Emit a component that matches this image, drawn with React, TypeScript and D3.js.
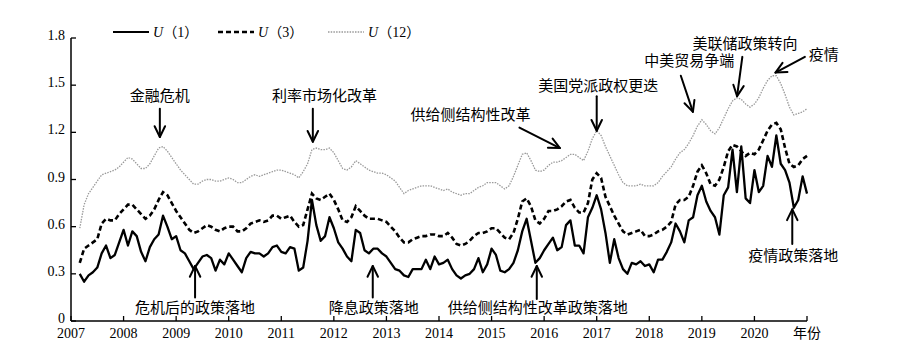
import * as d3 from "d3";

// monthly values, first point = 2007-02
const u1 = [
  0.30, 0.25, 0.29, 0.31, 0.34, 0.43, 0.48, 0.40, 0.42, 0.50, 0.58, 0.48, 0.57, 0.54, 0.44, 0.38, 0.47, 0.52, 0.55, 0.67,
  0.60, 0.52, 0.54, 0.45, 0.43, 0.38, 0.33, 0.37, 0.41, 0.42, 0.40, 0.32, 0.39, 0.36, 0.43, 0.39, 0.35, 0.31, 0.40, 0.44,
  0.43, 0.43, 0.41, 0.43, 0.47, 0.48, 0.44, 0.43, 0.47, 0.46, 0.32, 0.34, 0.51, 0.77, 0.61, 0.51, 0.54, 0.66, 0.59, 0.50,
  0.46, 0.41, 0.38, 0.58, 0.56, 0.45, 0.43, 0.46, 0.46, 0.43, 0.41, 0.37, 0.33, 0.32, 0.29, 0.28, 0.33, 0.33, 0.33, 0.39,
  0.33, 0.41, 0.36, 0.37, 0.39, 0.33, 0.29, 0.27, 0.29, 0.30, 0.33, 0.40, 0.31, 0.36, 0.46, 0.42, 0.32, 0.31, 0.33, 0.37,
  0.45, 0.57, 0.65, 0.51, 0.37, 0.40, 0.45, 0.49, 0.53, 0.45, 0.47, 0.61, 0.64, 0.48, 0.48, 0.43, 0.66, 0.72, 0.80, 0.71,
  0.56, 0.37, 0.52, 0.40, 0.33, 0.30, 0.37, 0.36, 0.38, 0.35, 0.36, 0.31, 0.39, 0.39, 0.44, 0.50, 0.62, 0.57, 0.50, 0.64,
  0.66, 0.80, 0.86, 0.76, 0.70, 0.66, 0.55, 0.80, 0.85, 1.09, 0.82, 1.11, 0.78, 0.75, 0.96, 0.82, 0.86, 1.05, 0.98, 1.18,
  1.00, 0.96, 0.88, 0.72, 0.77, 0.92, 0.81,
];

const u3 = [
  0.37, 0.46, 0.48, 0.50, 0.52, 0.62, 0.65, 0.64, 0.64, 0.68, 0.71, 0.74, 0.74, 0.71, 0.68, 0.65, 0.67, 0.71, 0.77, 0.82,
  0.80, 0.75, 0.70, 0.66, 0.62, 0.58, 0.56, 0.57, 0.59, 0.61, 0.60, 0.58, 0.57, 0.59, 0.60, 0.60, 0.57, 0.57, 0.59, 0.62,
  0.63, 0.64, 0.63, 0.64, 0.67, 0.67, 0.65, 0.66, 0.67, 0.63, 0.60, 0.61, 0.71, 0.81, 0.78, 0.77, 0.79, 0.81, 0.77, 0.71,
  0.64, 0.63, 0.66, 0.73, 0.70, 0.67, 0.65, 0.65, 0.65, 0.64, 0.63, 0.60, 0.57, 0.53, 0.50, 0.50, 0.52, 0.53, 0.54, 0.54,
  0.55, 0.55, 0.54, 0.54, 0.56, 0.53, 0.49, 0.48, 0.49, 0.51, 0.54, 0.56, 0.56, 0.57, 0.59, 0.59, 0.56, 0.53, 0.52, 0.56,
  0.65, 0.76, 0.78, 0.73, 0.64, 0.62, 0.65, 0.70, 0.70, 0.71, 0.73, 0.76, 0.77, 0.72, 0.69, 0.69, 0.75, 0.90, 0.94, 0.91,
  0.79, 0.73, 0.67, 0.62, 0.57, 0.55, 0.56, 0.57, 0.58, 0.54, 0.54, 0.55, 0.57, 0.58, 0.60, 0.63, 0.74, 0.77, 0.77, 0.79,
  0.86, 0.95, 0.99, 0.94, 0.87, 0.86, 0.90, 0.98, 1.08, 1.12, 1.11, 1.08, 1.05, 1.07, 1.06, 1.09, 1.15, 1.21, 1.25, 1.26,
  1.22, 1.10, 1.00, 0.98, 0.99, 1.03, 1.05,
];

const u12 = [
  0.59, 0.74, 0.81, 0.85, 0.89, 0.93, 0.94, 0.95, 0.96, 0.98, 1.01, 1.04, 1.03, 1.00, 0.97, 0.97, 1.00, 1.05, 1.10, 1.11,
  1.08, 1.04, 1.00, 0.96, 0.93, 0.90, 0.87, 0.87, 0.89, 0.90, 0.90, 0.89, 0.89, 0.90, 0.91, 0.90, 0.88, 0.88, 0.90, 0.92,
  0.93, 0.92, 0.93, 0.94, 0.95, 0.96, 0.96, 0.95, 0.94, 0.93, 0.91, 0.95, 1.00, 1.09, 1.10, 1.09, 1.09, 1.10, 1.07, 1.02,
  0.97, 0.96, 0.98, 1.02, 1.00, 0.98, 0.96, 0.95, 0.94, 0.94, 0.93, 0.91, 0.89, 0.85, 0.81, 0.83, 0.84, 0.85, 0.86, 0.86,
  0.86, 0.85, 0.84, 0.83, 0.84, 0.82, 0.81, 0.80, 0.81, 0.81, 0.83, 0.85, 0.86, 0.88, 0.88, 0.88, 0.86, 0.84, 0.86, 0.92,
  0.99, 1.06, 1.07, 1.02, 0.96, 0.95, 0.96, 0.99, 1.01, 1.01, 1.02, 1.04, 1.06, 1.06, 1.04, 1.02, 1.08, 1.16, 1.21, 1.18,
  1.11, 1.05, 0.99, 0.93, 0.88, 0.86, 0.86, 0.86, 0.87, 0.86, 0.86, 0.86, 0.88, 0.92, 0.95, 0.98, 1.03, 1.07, 1.09, 1.13,
  1.18, 1.24, 1.28, 1.25, 1.21, 1.19, 1.23, 1.29, 1.35, 1.40, 1.42, 1.41, 1.38, 1.36, 1.38, 1.42, 1.48, 1.53, 1.56, 1.56,
  1.51, 1.44, 1.36, 1.31, 1.32, 1.33, 1.35,
];

const years = [2007, 2008, 2009, 2010, 2011, 2012, 2013, 2014, 2015, 2016, 2017, 2018, 2019, 2020, 2021];
const yearLabels = ["2007", "2008", "2009", "2010", "2011", "2012", "2013", "2014", "2015", "2016", "2017", "2018", "2019", "2020", "年份"];
const yTicks = [0, 0.3, 0.6, 0.9, 1.2, 1.5, 1.8];
const yTickLabels = ["0", "0.3", "0.6", "0.9", "1.2", "1.5", "1.8"];

// events: text, text anchor (year, value), arrow tail -> tip (year, value)
const events = [
  { text: "金融危机", tx: 2008.69, ty: 1.40, from: [2008.69, 1.35], to: [2008.69, 1.17] },
  { text: "利率市场化改革", tx: 2011.82, ty: 1.40, from: [2011.6, 1.35], to: [2011.6, 1.14] },
  { text: "供给侧结构性改革", tx: 2014.6, ty: 1.28, from: [2015.53, 1.23], to: [2016.3, 1.10] },
  { text: "美国党派政权更迭", tx: 2017.03, ty: 1.46, from: [2017.0, 1.43], to: [2017.0, 1.21] },
  { text: "中美贸易争端", tx: 2018.76, ty: 1.62, from: [2018.6, 1.56], to: [2018.83, 1.33] },
  { text: "美联储政策转向", tx: 2019.82, ty: 1.73, from: [2019.77, 1.68], to: [2019.67, 1.43] },
  { text: "疫情", tx: 2021.32, ty: 1.66, from: [2020.96, 1.68], to: [2020.4, 1.58] },
  { text: "危机后的政策落地", tx: 2009.36, ty: 0.05, from: [2009.36, 0.15], to: [2009.36, 0.35] },
  { text: "降息政策落地", tx: 2012.76, ty: 0.05, from: [2012.74, 0.15], to: [2012.74, 0.35] },
  { text: "供给侧结构性改革政策落地", tx: 2015.88, ty: 0.05, from: [2015.86, 0.14], to: [2015.86, 0.35] },
  { text: "疫情政策落地", tx: 2020.74, ty: 0.38, from: [2020.72, 0.49], to: [2020.72, 0.71] },
];

const W = 899;
const H = 364;
const font = "'Liberation Serif', 'Times New Roman', 'Noto Sans CJK SC', serif";

const x = d3.scaleLinear().domain([2007, 2021]).range([71, 807]);
const y = d3.scaleLinear().domain([0, 1.8]).range([321, 38]);

const dates = u1.map((_, i) => 2007 + (i + 2) / 12);

const lineGen = d3
  .line<number>()
  .x((_, i) => x(dates[i]))
  .y((d) => y(d));

function Arrow({ from, to }: { from: number[]; to: number[] }) {
  const x1 = x(from[0]);
  const y1 = y(from[1]);
  const x2 = x(to[0]);
  const y2 = y(to[1]);
  const a = Math.atan2(y2 - y1, x2 - x1);
  const len = 12;
  const spread = 0.45;
  const h1 = [x2 - len * Math.cos(a - spread), y2 - len * Math.sin(a - spread)];
  const h2 = [x2 - len * Math.cos(a + spread), y2 - len * Math.sin(a + spread)];
  return (
    <g stroke="#000" strokeWidth={2} fill="none" strokeLinecap="round" strokeLinejoin="round">
      <line x1={x1} y1={y1} x2={x2} y2={y2} />
      <polyline points={`${h1[0]},${h1[1]} ${x2},${y2} ${h2[0]},${h2[1]}`} />
    </g>
  );
}

export default function App() {
  const legend = [
    { x0: 113, label: "1", dash: undefined, color: "#000", sw: 2.2 },
    { x0: 218, label: "3", dash: "5 3", color: "#000", sw: 2.6 },
    { x0: 328, label: "12", dash: "1.5 1.2", color: "#999", sw: 1.3 },
  ];

  return (
    <svg
      width={W}
      height={H}
      style={{ position: "absolute", left: 0, top: 0, background: "#fff" }}
      fontFamily={font}
    >
      {/* series */}
      <path d={lineGen(u12) ?? ""} fill="none" stroke="#9a9a9a" strokeWidth={1.3} strokeDasharray="1.5 1.2" />
      <path d={lineGen(u3) ?? ""} fill="none" stroke="#000" strokeWidth={2.6} strokeDasharray="5 3" />
      <path d={lineGen(u1) ?? ""} fill="none" stroke="#000" strokeWidth={2.3} strokeLinejoin="round" />

      {/* y axis */}
      <line x1={x(2007)} x2={x(2007)} y1={y(0)} y2={y(1.8)} stroke="#000" strokeWidth={1.5} />
      {yTicks.map((t, i) => (
        <g key={t}>
          <line x1={x(2007)} x2={x(2007) + 5} y1={y(t)} y2={y(t)} stroke="#000" strokeWidth={1.3} />
          <text x={x(2007) - 6} y={y(t) + 2} textAnchor="end" fontSize={14}>
            {yTickLabels[i]}
          </text>
        </g>
      ))}

      {/* x axis */}
      <line x1={x(2007)} x2={x(2021)} y1={y(0)} y2={y(0)} stroke="#000" strokeWidth={1.5} />
      {years.map((yr, i) => (
        <g key={yr}>
          <line x1={x(yr)} x2={x(yr)} y1={y(0)} y2={y(0) - 5} stroke="#000" strokeWidth={1.3} />
          <text x={x(yr)} y={y(0) + 17} textAnchor="middle" fontSize={14}>
            {yearLabels[i]}
          </text>
        </g>
      ))}

      {/* legend */}
      {legend.map((l) => (
        <g key={l.label}>
          <line
            x1={l.x0}
            x2={l.x0 + 36}
            y1={32}
            y2={32}
            stroke={l.color}
            strokeWidth={l.sw}
            strokeDasharray={l.dash}
          />
          <text x={l.x0 + 40} y={37} fontSize={14}>
            <tspan fontStyle="italic">U</tspan>
            <tspan>（{l.label}）</tspan>
          </text>
        </g>
      ))}

      {/* events */}
      {events.map((e) => (
        <g key={e.text}>
          <text x={x(e.tx)} y={y(e.ty)} textAnchor="middle" fontSize={15}>
            {e.text}
          </text>
          <Arrow from={e.from} to={e.to} />
        </g>
      ))}
    </svg>
  );
}
